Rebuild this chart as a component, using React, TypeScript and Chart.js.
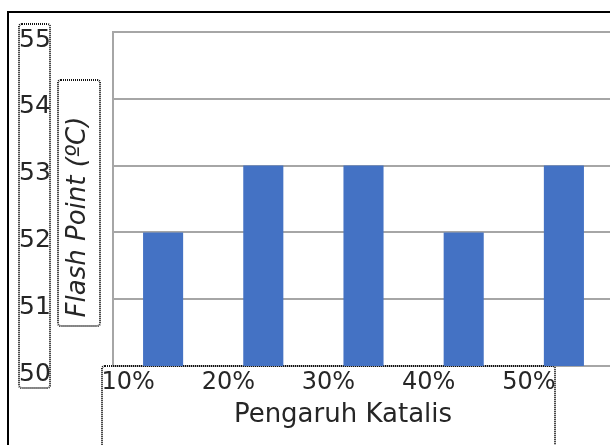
import React, { useEffect, useRef } from "react";
import { Chart, registerables } from "chart.js";

Chart.register(...registerables);

const categories = ["10%", "20%", "30%", "40%", "50%"];
const flashPoint = [52, 53, 53, 52, 53];
const yMin = 50;
const yMax = 55;
const yStep = 1;
const xTitle = "Pengaruh Katalis";
const yTitle = "Flash Point (ºC)";

const FONT = "'DejaVu Sans', Verdana, sans-serif";
const TEXT = "#262626";

function dottedBox(ctx: CanvasRenderingContext2D, x: number, y: number, w: number, h: number, r: number) {
  ctx.beginPath();
  ctx.moveTo(x + r, y);
  ctx.lineTo(x + w - r, y);
  ctx.quadraticCurveTo(x + w, y, x + w, y + r);
  ctx.lineTo(x + w, y + h - r);
  ctx.quadraticCurveTo(x + w, y + h, x + w - r, y + h);
  ctx.lineTo(x + r, y + h);
  ctx.quadraticCurveTo(x, y + h, x, y + h - r);
  ctx.lineTo(x, y + r);
  ctx.quadraticCurveTo(x, y, x + r, y);
  ctx.closePath();
  ctx.stroke();
}

const decorPlugin = {
  id: "decor",
  beforeDatasetsDraw(chart: any) {
    const ctx: CanvasRenderingContext2D = chart.ctx;
    ctx.save();
    ctx.strokeStyle = "#111";
    ctx.lineWidth = 2;
    ctx.setLineDash([1, 1]);
    dottedBox(ctx, 19, 24, 31, 364, 3);
    dottedBox(ctx, 58, 80, 42, 246, 3);
    dottedBox(ctx, 102, 366, 453, 200, 3);
    ctx.restore();
  },
  afterDraw(chart: any) {
    const ctx: CanvasRenderingContext2D = chart.ctx;
    ctx.save();
    // outer frame (left and top edges visible)
    ctx.fillStyle = "#000";
    ctx.fillRect(7, 11, 2, 440);
    ctx.fillRect(7, 11, 620, 2);
    // axis titles
    ctx.fillStyle = TEXT;
    ctx.textAlign = "center";
    ctx.textBaseline = "alphabetic";
    ctx.font = `26px ${FONT}`;
    ctx.fillText(xTitle, 343, 422);
    ctx.translate(85, 217);
    ctx.rotate(-Math.PI / 2);
    ctx.font = `italic 26px ${FONT}`;
    ctx.fillText(yTitle, 0, 0);
    ctx.restore();
  },
};

export default function App() {
  const ref = useRef<HTMLCanvasElement | null>(null);
  useEffect(() => {
    if (!ref.current) return;
    const chart = new Chart(ref.current, {
      type: "bar",
      data: {
        labels: categories,
        datasets: [
          {
            data: flashPoint,
            backgroundColor: "#4472C4",
            barPercentage: 0.4,
            categoryPercentage: 1.0,
          },
        ],
      },
      options: {
        responsive: false,
        animation: false,
        layout: { padding: { top: 32, left: 19, right: 0, bottom: 0 } },
        plugins: { legend: { display: false }, tooltip: { enabled: false } },
        scales: {
          x: {
            grid: { display: false, drawTicks: false },
            border: { display: false },
            ticks: {
              color: TEXT,
              font: { family: FONT, size: 24 },
              labelOffset: -35,
              padding: 2,
              maxRotation: 0,
            },
            afterFit(scale: any) {
              scale.height = 79;
            },
          },
          y: {
            min: yMin,
            max: yMax,
            grid: { color: "#a6a6a6", lineWidth: 2, drawTicks: false },
            border: { display: true, color: "#a6a6a6", width: 2 },
            ticks: {
              stepSize: yStep,
              color: TEXT,
              font: { family: FONT, size: 25 },
              crossAlign: "far",
              labelOffset: 8,
              padding: 0,
            },
            afterFit(scale: any) {
              scale.width = 94;
            },
          },
        },
      },
      plugins: [decorPlugin],
    });
    return () => chart.destroy();
  }, []);
  return (
    <div style={{ position: "fixed", left: 0, top: 0, width: 610, height: 445, overflow: "hidden", background: "#fff" }}>
      <canvas ref={ref} width={614} height={445} style={{ display: "block", width: 614, height: 445 }} />
    </div>
  );
}
